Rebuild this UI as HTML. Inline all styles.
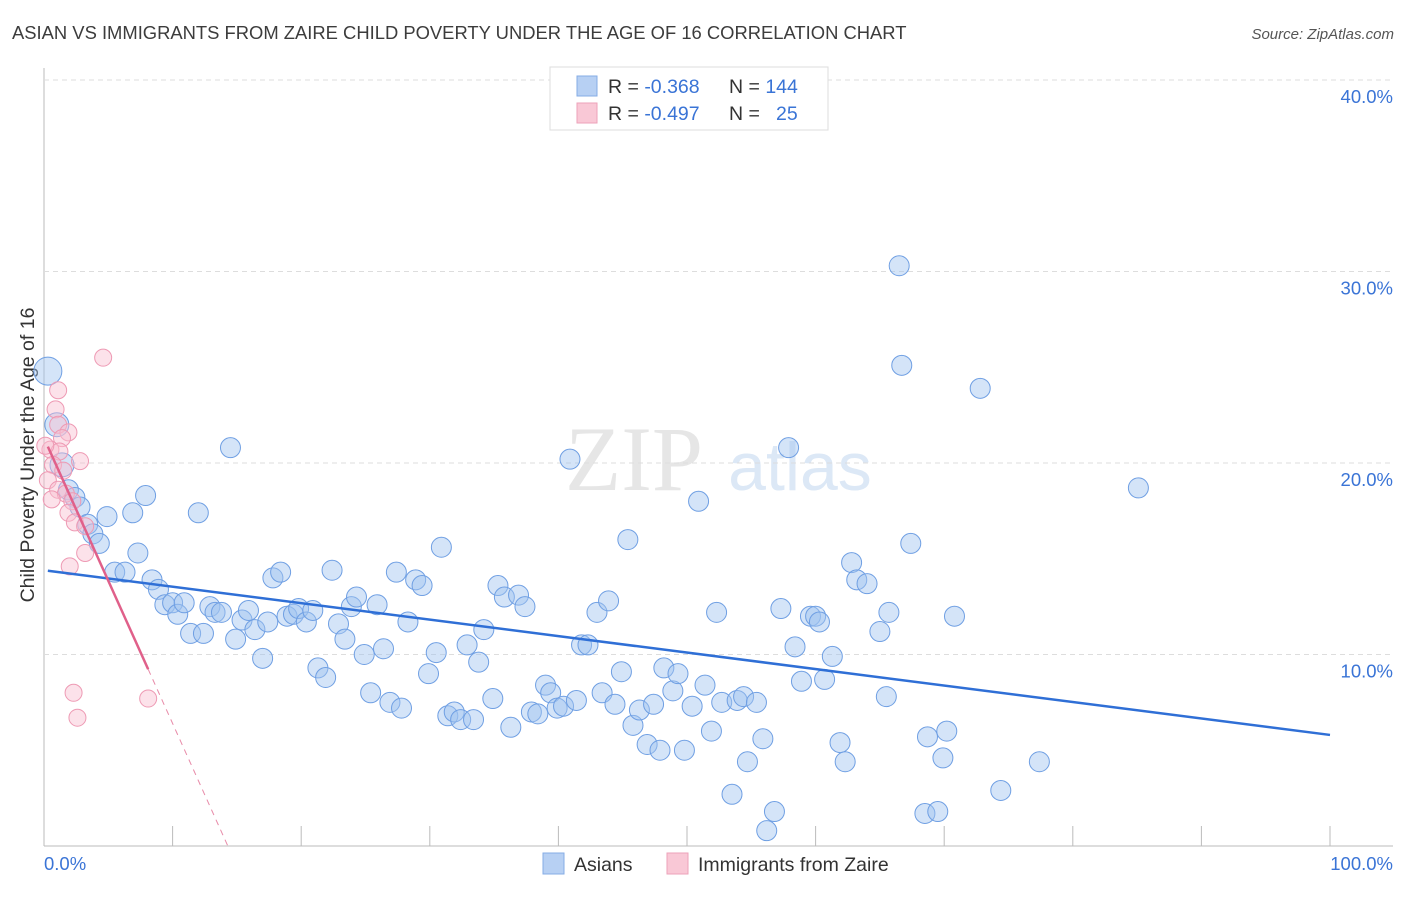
<!DOCTYPE html>
<html><head><meta charset="utf-8"><style>
body{margin:0;background:#fff;font-family:"Liberation Sans",sans-serif}
</style></head><body>
<svg width="1406" height="892" xmlns="http://www.w3.org/2000/svg" id="c" font-family="Liberation Sans, sans-serif">
<text x="12" y="39" font-size="18.4" fill="#3c3c3c">ASIAN VS IMMIGRANTS FROM ZAIRE CHILD POVERTY UNDER THE AGE OF 16 CORRELATION CHART</text>
<text x="1394" y="39" font-size="15" fill="#555" font-style="italic" text-anchor="end">Source: ZipAtlas.com</text>
<text x="634" y="490" font-size="92" fill="#e6e6e6" font-family="Liberation Serif, serif" text-anchor="middle">ZIP</text>
<text x="800" y="490" font-size="68" fill="#dce8f6" text-anchor="middle">atlas</text>
<text transform="translate(34,455) rotate(-90)" font-size="19.5" fill="#333" text-anchor="middle">Child Poverty Under the Age of 16</text>
<g id="grid"></g><g id="marks"></g><g id="trend"></g>
<g>
<rect x="550" y="67" width="278" height="63" fill="#fff" stroke="#ddd"/>
<rect x="577" y="76" width="20" height="20" fill="#b7d0f3" stroke="#86ace6"/>
<rect x="577" y="103" width="20" height="20" fill="#f9c8d6" stroke="#eda2b9"/>
<text x="608" y="93" font-size="19.5" fill="#333">R = <tspan fill="#3a74d6">-0.368</tspan><tspan x="729">N = </tspan><tspan fill="#3a74d6">144</tspan></text>
<text x="608" y="120" font-size="19.5" fill="#333">R = <tspan fill="#3a74d6">-0.497</tspan><tspan x="729">N = </tspan><tspan x="776" fill="#3a74d6">25</tspan></text>
</g>
<g>
<rect x="543" y="853" width="21" height="21" fill="#b7d0f3" stroke="#86ace6"/>
<text x="574" y="871" font-size="19.5" fill="#333">Asians</text>
<rect x="667" y="853" width="21" height="21" fill="#f9c8d6" stroke="#eda2b9"/>
<text x="698" y="871" font-size="19.5" fill="#333">Immigrants from Zaire</text>
</g>
</svg>
<script>
const yTicks=[10,20,30,40];
const yTickLabels=["10.0%","20.0%","30.0%","40.0%"];
const xEndLabels=["0.0%","100.0%"];
const blueX=[0.3,1.0,1.4,1.9,2.4,2.8,3.4,3.8,4.3,4.9,5.5,6.3,7.3,6.9,7.9,8.4,8.9,9.4,10.0,10.4,10.9,11.4,12.0,12.4,12.9,13.3,13.8,14.5,14.9,15.4,15.9,16.4,17.0,17.4,17.8,18.4,18.9,19.4,19.8,20.4,20.9,21.3,21.9,22.4,22.9,23.4,23.9,24.3,24.9,25.4,25.9,26.4,26.9,27.4,27.8,28.3,28.9,29.4,29.9,30.5,30.9,31.4,31.9,32.4,32.9,33.4,33.8,34.2,34.9,35.3,35.8,36.3,36.9,37.4,37.9,38.4,39.0,39.4,39.9,40.4,40.9,41.4,41.8,42.3,43.0,43.4,43.9,44.4,44.9,45.4,45.8,46.3,46.9,47.4,47.9,48.2,48.9,49.3,49.8,50.4,50.9,51.4,51.9,52.3,52.7,53.5,53.9,54.4,54.7,55.4,55.9,56.2,56.8,57.3,57.9,58.4,58.9,59.6,60.0,60.3,60.7,61.3,61.9,62.3,62.8,63.2,64.0,65.0,65.5,65.7,66.5,66.7,67.4,68.5,68.7,69.5,69.9,70.2,70.8,72.8,74.4,77.4,85.1];
const blueY=[24.8,22.0,19.9,18.6,18.2,17.7,16.8,16.3,15.8,17.2,14.3,14.3,15.3,17.4,18.3,13.9,13.4,12.6,12.7,12.1,12.7,11.1,17.4,11.1,12.5,12.2,12.2,20.8,10.8,11.8,12.3,11.3,9.8,11.7,14.0,14.3,12.0,12.1,12.4,11.7,12.3,9.3,8.8,14.4,11.6,10.8,12.5,13.0,10.0,8.0,12.6,10.3,7.5,14.3,7.2,11.7,13.9,13.6,9.0,10.1,15.6,6.8,7.0,6.6,10.5,6.6,9.6,11.3,7.7,13.6,13.0,6.2,13.1,12.5,7.0,6.9,8.4,8.0,7.2,7.3,20.2,7.6,10.5,10.5,12.2,8.0,12.8,7.4,9.1,16.0,6.3,7.1,5.3,7.4,5.0,9.3,8.1,9.0,5.0,7.3,18.0,8.4,6.0,12.2,7.5,2.7,7.6,7.8,4.4,7.5,5.6,0.8,1.8,12.4,20.8,10.4,8.6,12.0,12.0,11.7,8.7,9.9,5.4,4.4,14.8,13.9,13.7,11.2,7.8,12.2,30.3,25.1,15.8,1.7,5.7,1.8,4.6,6.0,12.0,23.9,2.9,4.4,18.7];
const pinkX=[4.6,1.1,0.9,1.1,1.9,1.4,0.5,1.2,2.8,0.7,0.3,1.1,1.7,2.2,1.9,2.4,3.2,3.2,2.0,2.3,2.6,8.1,0.6,1.5,0.1];
const pinkY=[25.5,23.8,22.8,22.0,21.6,21.3,20.7,20.6,20.1,19.9,19.1,18.6,18.4,18.0,17.4,16.9,16.7,15.3,14.6,8.0,6.7,7.7,18.1,19.6,20.9];
const blueTrend=[14.4,5.8];   // y at x=0 and x=100
const pinkTrend=[21.3,-1.49]; // intercept, slope
const pinkSolidEnd=8.1;
const X=v=>44+v*12.86, Y=v=>846-v*19.15;
const NS="http://www.w3.org/2000/svg";
function mk(t,a,p){const e=document.createElementNS(NS,t);for(const k in a)e.setAttribute(k,a[k]);p.appendChild(e);return e;}
const g=document.getElementById('grid');
mk('line',{x1:44,y1:68,x2:44,y2:846,stroke:'#bbb'},g);
mk('line',{x1:44,y1:846,x2:1393,y2:846,stroke:'#bbb'},g);
yTicks.forEach((t,i)=>{
 const l=mk('line',{x1:44,y1:Y(t),x2:1393,y2:Y(t),stroke:'#ddd','stroke-dasharray':'5,4'},g);
 
 
 const tx=mk('text',{x:1393,y:Y(t)+23,'font-size':18.5,fill:'#3a74d6','text-anchor':'end'},g);
 tx.textContent=yTickLabels[i];
 
 
});
for(let i=1;i<=10;i++){
 const l=mk('line',{x1:X(i*10),y1:826,x2:X(i*10),y2:846,stroke:'#bbb'},g);
 
 
}
[0,100].forEach((v,i)=>{
 const t=mk('text',{x:i?1393:44,y:870,'font-size':18.5,fill:'#3a74d6','text-anchor':i?'end':'start'},g);
 t.textContent=xEndLabels[i];
 
 
});
const m=document.getElementById('marks');
blueX.forEach((x,i)=>{
 const c=mk('circle',{cx:X(x),cy:Y(blueY[i]),r:i<3?(i==0?14:12):10,fill:'rgba(160,195,240,0.45)',stroke:'#6f9fe3','stroke-width':1},m);
 
 
});
pinkX.forEach((x,i)=>{
 const c=mk('circle',{cx:X(x),cy:Y(pinkY[i]),r:8.5,fill:'rgba(248,190,208,0.45)',stroke:'#ee9ab4','stroke-width':1},m);
 
 
});
const tr=document.getElementById('trend');
const bl=mk('line',{x1:X(0.3),y1:Y(blueTrend[0]+(blueTrend[1]-blueTrend[0])*0.003),x2:X(100),y2:Y(blueTrend[1]),stroke:'#2f6fd6','stroke-width':2.5},tr);


const py=x=>pinkTrend[0]+pinkTrend[1]*x;
const x0=-pinkTrend[0]/pinkTrend[1];
const pl=mk('line',{x1:X(0.3),y1:Y(py(0.3)),x2:X(pinkSolidEnd),y2:Y(py(pinkSolidEnd)),stroke:'#e0608a','stroke-width':2.5},tr);


const pd=mk('line',{x1:X(pinkSolidEnd),y1:Y(py(pinkSolidEnd)),x2:X(x0),y2:Y(0),stroke:'#e88aa8','stroke-width':1,'stroke-dasharray':'6,5'},tr);


</script>
</body></html>
